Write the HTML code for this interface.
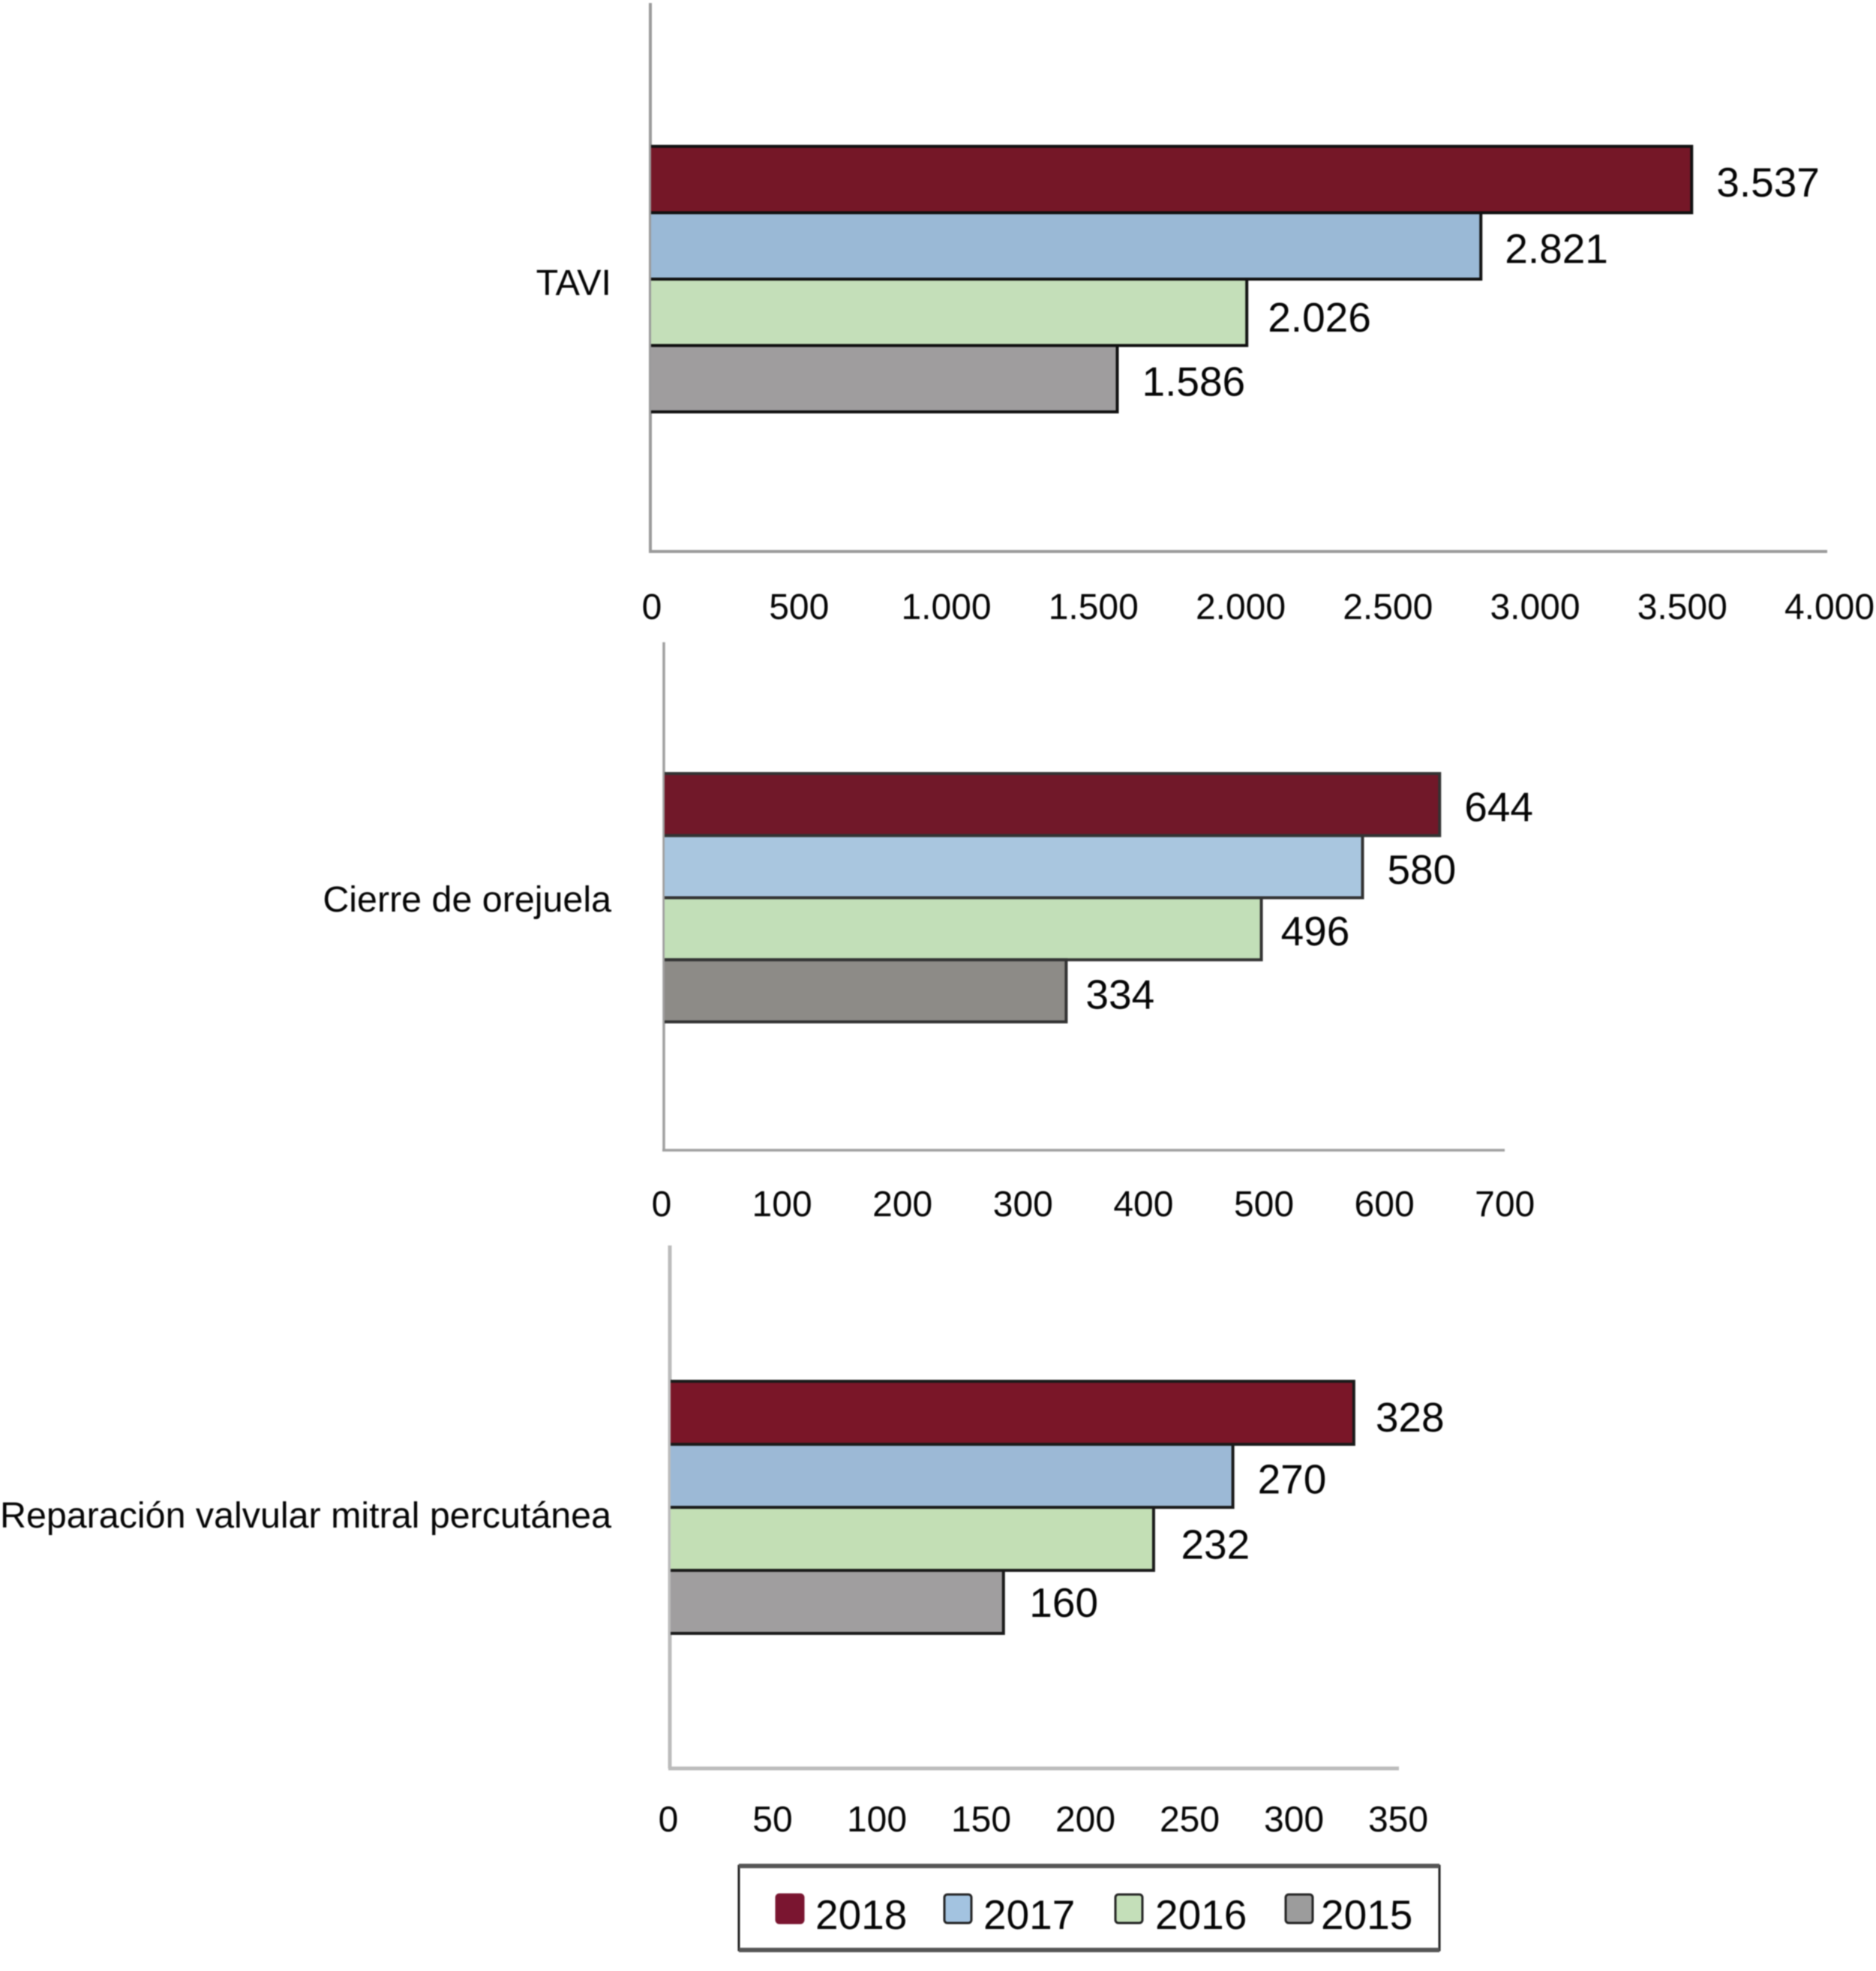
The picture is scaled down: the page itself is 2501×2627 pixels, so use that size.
<!DOCTYPE html>
<html lang="es">
<head>
<meta charset="utf-8">
<title>Procedimientos 2015-2018</title>
<style>
  html, body { margin: 0; padding: 0; background: #fff; }
  svg { display: block; filter: blur(0.9px); }
  text { font-family: "Liberation Sans", Arial, sans-serif; fill: #050505; }
</style>
</head>
<body>
<svg id="chart" xmlns="http://www.w3.org/2000/svg" width="2501" height="2627" viewBox="0 0 2501 2627"></svg>
<script>
// ---- data ----
const years = ["2018", "2017", "2016", "2015"];
const taviValues = [3537, 2821, 2026, 1586];
const orejuelaValues = [644, 580, 496, 334];
const mitralValues = [328, 270, 232, 160];
const taviTicks = [0, 500, 1000, 1500, 2000, 2500, 3000, 3500, 4000];
const orejuelaTicks = [0, 100, 200, 300, 400, 500, 600, 700];
const mitralTicks = [0, 50, 100, 150, 200, 250, 300, 350];
const categoryTavi = "TAVI";
const categoryOrejuela = "Cierre de orejuela";
const categoryMitral = "Reparación valvular mitral percutánea";

// ---- layout ----
const panels = [
  { id: "tavi", category: categoryTavi, values: taviValues, ticks: taviTicks,
    x0: 867, pxPerUnit: 0.3925, axisTop: 4, axisBottom: 735, axisRight: 2436,
    barsTop: 195, band: 88.5, catBaseline: 393, tickBaseline: 825, tickOffset: 2,
    labelGaps: [33, 32, 28, 33], labelDys: [22.5, 22.5, 25.5, 22.5],
    axisColor: "#9a9a9a", axisWidth: 4,
    fills: ["#751727", "#9ab9d6", "#c4dfb9", "#9f9d9e"], edge: "#111" },
  { id: "orejuela", category: categoryOrejuela, values: orejuelaValues, ticks: orejuelaTicks,
    x0: 885, pxPerUnit: 1.606, axisTop: 856, axisBottom: 1533, axisRight: 2006,
    barsTop: 1031, band: 82.75, catBaseline: 1215, tickBaseline: 1621, tickOffset: -3,
    labelGaps: [33, 33, 26, 26], labelDys: [22, 23, 22, 24],
    axisColor: "#a0a0a0", axisWidth: 3.5,
    fills: ["#711829", "#a9c6df", "#c2dfb8", "#8d8b87"], edge: "#333" },
  { id: "mitral", category: categoryMitral, values: mitralValues, ticks: mitralTicks,
    x0: 893, pxPerUnit: 2.78, axisTop: 1660, axisBottom: 2357, axisRight: 1865,
    barsTop: 1841, band: 84, catBaseline: 2036, tickBaseline: 2441, tickOffset: -2,
    labelGaps: [29, 33, 36.5, 34.5], labelDys: [25, 23.5, 26.5, 20],
    axisColor: "#bcbcbc", axisWidth: 5,
    fills: ["#7a1628", "#9cb9d6", "#c3dfb5", "#a09e9f"], edge: "#1a1a1a" }
];

const legendSwatchX = [1035, 1259, 1487, 1714];
const legendTextX = [1087, 1311, 1540, 1761];
const legendFills = ["#7a1530", "#a3c3e0", "#c4dfb9", "#9c9c9c"];
const legendEdges = ["#7a1530", "#222", "#222", "#222"];

const svg = document.getElementById("chart");
const NS = "http://www.w3.org/2000/svg";

function make(tag, attrs, parent) {
  const el = document.createElementNS(NS, tag);
  for (const k in attrs) el.setAttribute(k, attrs[k]);
  (parent || svg).appendChild(el);
  return el;
}
function fmt(n) {
  return String(n).replace(/\B(?=(\d{3})+(?!\d))/g, ".");
}

panels.forEach(function (p) {
  const xScale = function (v) { return p.x0 + v * p.pxPerUnit; };
  const yBand = function (i) { return p.barsTop + i * p.band; };

  const g = make("g", {});
  
  

  const yAxis = make("line", { x1: p.x0, x2: p.x0, y1: p.axisTop, y2: p.axisBottom, stroke: p.axisColor, "stroke-width": p.axisWidth }, g);
  
  

  const xAxis = make("line", { x1: p.x0 - 2, x2: p.axisRight, y1: p.axisBottom, y2: p.axisBottom, stroke: p.axisColor, "stroke-width": p.axisWidth }, g);
  
  

  const cat = make("text", { x: 815, y: p.catBaseline, "text-anchor": "end", "font-size": 48.4 }, g);
  cat.textContent = p.category;
  
  

  p.ticks.forEach(function (t) {
    const tick = make("text", { x: xScale(t) + p.tickOffset, y: p.tickBaseline, "text-anchor": "middle", "font-size": 48 }, g);
    tick.textContent = fmt(t);
    
    
  });

  p.values.forEach(function (v, i) {
    const y = yBand(i);
    const right = xScale(v);
    const bar = make("rect", { x: p.x0 + 1, y: y, width: right - p.x0 - 1, height: p.band, fill: p.fills[i] }, g);
    
    

    const edge = make("path", { d: "M" + (p.x0 + 1) + " " + y + "H" + right + "V" + (y + p.band) + "H" + (p.x0 + 1), fill: "none", stroke: p.edge, "stroke-width": 4 }, g);
    
    

    const label = make("text", { x: right + p.labelGaps[i], y: y + p.band / 2 + p.labelDys[i], "font-size": 55 }, g);
    label.textContent = fmt(v);
    
    
  });
});

// ---- legend ----
const legend = make("g", {});



const legendBox = make("rect", { x: 985, y: 2487, width: 934, height: 112, fill: "#fff", stroke: "#222", "stroke-width": 3 }, legend);



const legendTop = make("line", { x1: 985, x2: 1919, y1: 2487, y2: 2487, stroke: "#555", "stroke-width": 6 }, legend);



const legendBottom = make("line", { x1: 985, x2: 1919, y1: 2599, y2: 2599, stroke: "#555", "stroke-width": 6 }, legend);



years.forEach(function (yr, i) {
  const sw = make("rect", { x: legendSwatchX[i], y: 2525, width: 36, height: 38, rx: 4, fill: legendFills[i], stroke: legendEdges[i], "stroke-width": 3 }, legend);
  
  

  const t = make("text", { x: legendTextX[i], y: 2571, "font-size": 55 }, legend);
  t.textContent = yr;
  
  
});
</script>
</body>
</html>
